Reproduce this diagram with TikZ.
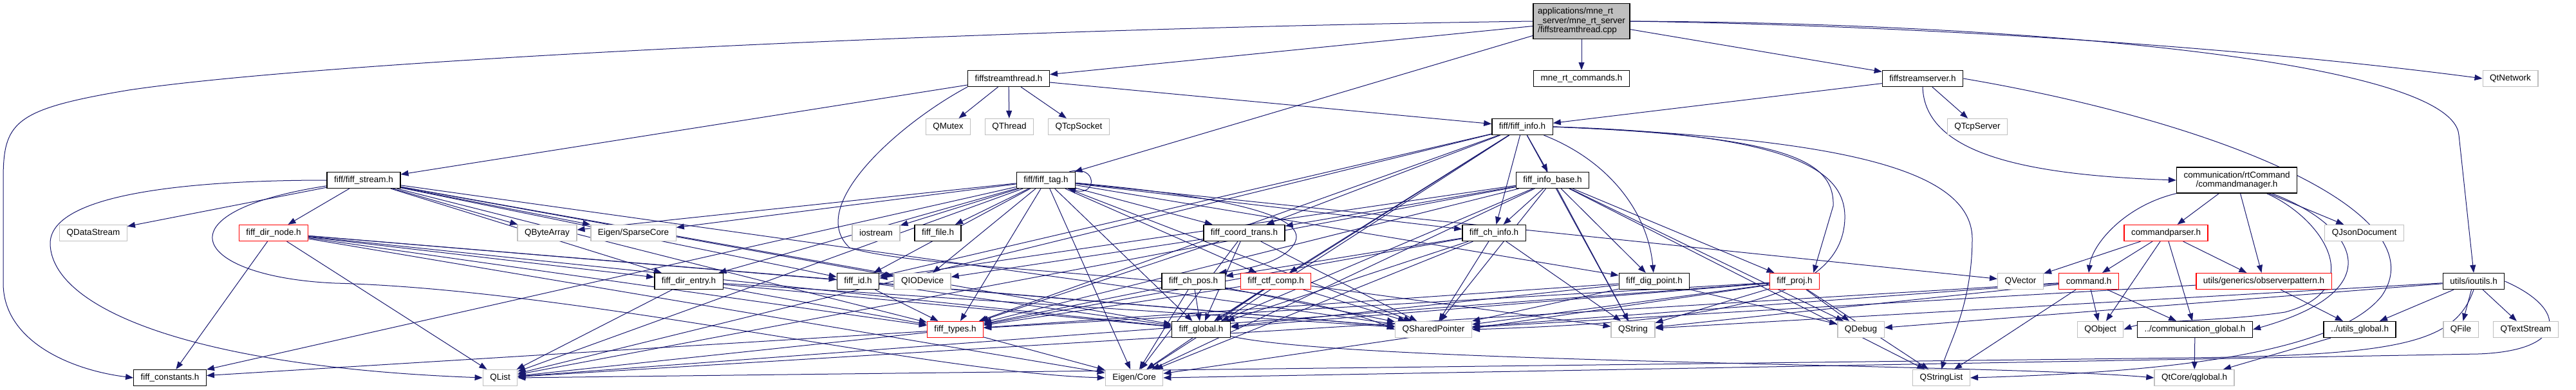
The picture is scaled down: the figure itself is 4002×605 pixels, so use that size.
\documentclass[tikz,border=0pt]{standalone}
\usepackage{fontspec}
\setmainfont{Liberation Sans}
\usepackage{tikz}
\usetikzlibrary{arrows.meta,positioning,backgrounds}
\definecolor{depblue}{RGB}{25,25,112}
\definecolor{extgray}{RGB}{191,191,191}
\tikzset{
  hdr/.style  ={rectangle,draw=black,line width=1.3pt,fill=white,inner xsep=11pt,inner ysep=0pt,minimum height=25pt,font=\fontsize{13.5}{14.5}\selectfont},
  sys/.style  ={hdr,draw=extgray},
  trunc/.style={hdr,draw=red},
  mainfile/.style={hdr,fill=extgray,line width=1.8pt,align=left,minimum height=55pt,inner xsep=7pt},
  inc/.style  ={draw=depblue,line width=1pt,-{Triangle[length=12pt,width=9pt]}},
}
\begin{document}
\begin{tikzpicture}[x=1pt,y=-1pt]
  \useasboundingbox (0,0) rectangle (4002,605);
  \node[mainfile] (root) at (2457,33) {applications/mne\_rt\\\_server/mne\_rt\_server\\/fiffstreamthread.cpp};
  \node[hdr] (thread) at (1567,122) {fiffstreamthread.h};
  \node[hdr] (cmds)   at (2457,122) {mne\_rt\_commands.h};
  \node[hdr] (server) at (2987,122) {fiffstreamserver.h};
  \node[sys] (qtnet)  at (3900,122) {QtNetwork};
  \node[sys] (qmutex)  at (1473,197) {QMutex};
  \node[sys] (qthread) at (1568,197) {QThread};
  \node[sys] (qsocket) at (1676,197) {QTcpSocket};
  \node[hdr] (info)    at (2365,197) {fiff/fiff\_info.h};
  \node[sys] (qserver) at (3072,197) {QTcpServer};
  \node[hdr] (stream)   at (565,280)  {fiff/fiff\_stream.h};
  \node[hdr] (tag)      at (1625,280) {fiff/fiff\_tag.h};
  \node[hdr] (infobase) at (2412,280) {fiff\_info\_base.h};
  \node[hdr,align=center,minimum height=40pt] (manager) at (3475,280) {communication/rtCommand\\/commandmanager.h};
  \node[sys]   (qdatastream) at (145,362)  {QDataStream};
  \node[trunc] (dirnode)     at (425,362)  {fiff\_dir\_node.h};
  \node[sys]   (qbytearray)  at (850,362)  {QByteArray};
  \node[sys]   (sparse)      at (984,362)  {Eigen/SparseCore};
  \node[sys]   (iostream)    at (1361,362) {iostream};
  \node[hdr]   (file)        at (1457,362) {fiff\_file.h};
  \node[hdr]   (coordtrans)  at (1933,362) {fiff\_coord\_trans.h};
  \node[hdr]   (chinfo)      at (2321,362) {fiff\_ch\_info.h};
  \node[trunc] (parser)      at (3365,362) {commandparser.h};
  \node[sys]   (qjson)       at (3673,362) {QJsonDocument};
  \node[hdr]   (direntry)  at (1070,437) {fiff\_dir\_entry.h};
  \node[hdr]   (fid)       at (1333,437) {fiff\_id.h};
  \node[sys]   (qiodevice) at (1433,437) {QIODevice};
  \node[hdr]   (chpos)     at (1854,437) {fiff\_ch\_pos.h};
  \node[trunc] (ctfcomp)   at (1982,437) {fiff\_ctf\_comp.h};
  \node[hdr]   (digpoint)  at (2570,437) {fiff\_dig\_point.h};
  \node[trunc] (proj)      at (2788,437) {fiff\_proj.h};
  \node[sys]   (qvector)   at (3139,437) {QVector};
  \node[trunc] (command)   at (3245,437) {command.h};
  \node[trunc] (observer)  at (3517,437) {utils/generics/observerpattern.h};
  \node[hdr]   (ioutils)   at (3843,437) {utils/ioutils.h};
  \node[trunc] (types)       at (1484,512) {fiff\_types.h};
  \node[hdr]   (global)      at (1866,512) {fiff\_global.h};
  \node[sys]   (qshared)     at (2227,512) {QSharedPointer};
  \node[sys]   (qstring)     at (2537,512) {QString};
  \node[sys]   (qdebug)      at (2891,512) {QDebug};
  \node[sys]   (qobject)     at (3263,512) {QObject};
  \node[hdr]   (commglobal)  at (3410,512) {../communication\_global.h};
  \node[hdr]   (utilsglobal) at (3666,512) {../utils\_global.h};
  \node[sys]   (qfile)       at (3823,512) {QFile};
  \node[sys]   (qtextstream) at (3924,512) {QTextStream};
  \node[hdr] (constants)  at (264,587)  {fiff\_constants.h};
  \node[sys] (qlist)      at (777,587)  {QList};
  \node[sys] (eigencore)  at (1762,587) {Eigen/Core};
  \node[sys] (qstringlist) at (3016,587) {QStringList};
  \node[sys] (qglobal)    at (3409,587) {QtCore/qglobal.h};

  \begin{scope}[on background layer]
  \fill[white] (0,0) rectangle (4002,605);
  \draw[inc] (root) -- (thread);
  \draw[inc] (root) -- (cmds);
  \draw[inc] (root) -- (server);
  \draw[inc] (root) -- (tag);
  \draw[inc] (root.east) .. controls (3000,40) and (3500,75) .. (qtnet.west);
  \draw[inc] (root.east) .. controls (3100,35) and (3810,90) .. (3820,210) -- (ioutils.north);
  \draw[inc] (root.west) .. controls (1500,45) and (500,95) .. (200,140) .. controls (20,170) and (5,190) .. (5,280) -- (5,440) .. controls (5,530) and (110,575) .. (constants.west);

  \draw[inc] (thread) -- (qmutex);
  \draw[inc] (thread) -- (qthread);
  \draw[inc] (thread) -- (qsocket);
  \draw[inc] (thread) -- (stream);
  \draw[inc] (thread) -- (info);
  \draw[inc] (thread.south west) .. controls (1400,190) and (1250,320) .. (1320,385) .. controls (1450,425) and (1950,420) .. (qshared.west);

  \draw[inc] (server) -- (info);
  \draw[inc] (server) -- (qserver);
  \draw[inc] (server.south) .. controls (2990,240) and (3150,272) .. (manager.west);
  \draw[inc] (server.east) .. controls (3450,190) and (3790,330) .. (3700,460) .. controls (3620,560) and (3300,580) .. (qstringlist.east);

  \draw[inc] (stream) -- (qdatastream);
  \draw[inc] (stream) -- (dirnode);
  \draw[inc] (stream) -- (qbytearray);
  \draw[inc] (stream) -- (sparse);
  \draw[inc] (stream) -- (fid);
  \draw[inc] (stream) -- (direntry);
  \draw[inc] (stream) -- (types);
  \draw[inc] (stream) -- (global);
  \draw[inc] (stream) -- (qshared);
  \draw[inc] (stream) -- (qiodevice);
  \draw[inc] (stream.west) .. controls (300,280) and (75,300) .. (78,380) .. controls (82,480) and (300,570) .. (qlist.west);
  \draw[inc] (stream) .. controls (240,330) and (300,430) .. (520,440) .. controls (900,450) and (1450,580) .. (eigencore.west);

  \draw[inc] (dirnode) -- (constants);
  \draw[inc] (dirnode) -- (qlist);
  \draw[inc] (dirnode) -- (types);
  \draw[inc] (dirnode) -- (global);
  \draw[inc] (dirnode) -- (fid);
  \draw[inc] (dirnode) -- (direntry);
  \draw[inc] (dirnode) -- (qshared);
  \draw[inc] (dirnode) -- (eigencore);

  \draw[inc] ([xshift=-10pt]tag.north east) .. controls (1705,255) and (1705,305) .. ([xshift=-12pt]tag.south east);
  \draw[inc] (tag) -- (sparse);
  \draw[inc] (tag) -- (direntry);
  \draw[inc] (tag) -- (fid);
  \draw[inc] (tag) -- (iostream);
  \draw[inc] (tag) -- (file);
  \draw[inc] (tag) -- (qiodevice);
  \draw[inc] (tag) -- (types);
  \draw[inc] (tag) -- (global);
  \draw[inc] (tag) -- (coordtrans);
  \draw[inc] (tag) .. controls (1900,305) and (2040,335) .. (2010,380) .. controls (1990,410) and (1935,418) .. ([xshift=-10pt]chpos.north east);
  \draw[inc] (tag) -- (chinfo);
  \draw[inc] (tag) -- (digpoint);
  \draw[inc] (tag) -- (ctfcomp);
  \draw[inc] (tag) -- (qvector);
  \draw[inc] (tag) -- (qshared);
  \draw[inc] (tag) -- (qbytearray);
  \draw[inc] (tag) -- (constants);
  \draw[inc] (tag) -- (qlist);
  \draw[inc] (tag) -- (eigencore);

  \draw[inc] (info) -- (infobase);
  \draw[inc] (info) -- (chinfo);
  \draw[inc] (info) .. controls (2500,250) and (2560,330) .. (digpoint);
  \draw[inc] (info.east) .. controls (2780,212) and (2850,250) .. (2848,320) -- ([xshift=-10pt]proj.north east);
  \draw[inc] (info) -- (coordtrans);
  \draw[inc] (info) -- (ctfcomp);
  \draw[inc] (info) -- (fid);
  \draw[inc] (info) -- (types);
  \draw[inc] (info) -- (global);
  \draw[inc] (info) -- (qlist);
  \draw[inc] (info) -- (eigencore);
  \draw[inc] (info) -- (qstring);
  \draw[inc] (info.east) .. controls (2850,215) and (3062,260) .. (3064,370) .. controls (3064,470) and (3030,530) .. (qstringlist.north);
  \draw[inc] (info.east) .. controls (2800,208) and (2868,270) .. (2866,340) .. controls (2862,470) and (2650,500) .. (qshared.east);

  \draw[inc] (infobase) -- (chinfo);
  \draw[inc] (infobase) -- (digpoint);
  \draw[inc] (infobase) -- (proj);
  \draw[inc] (infobase) -- (coordtrans);
  \draw[inc] (infobase) -- (fid);
  \draw[inc] (infobase) -- (types);
  \draw[inc] (infobase) -- (global);
  \draw[inc] (infobase) -- (qlist);
  \draw[inc] (infobase) -- (qstringlist);
  \draw[inc] (infobase) -- (qshared);
  \draw[inc] (infobase) -- (eigencore);
  \draw[inc] (infobase) -- (qdebug);
  \draw[inc] (infobase) -- (qstring);

  \draw[inc] (coordtrans) -- (types);
  \draw[inc] (coordtrans) -- (global);
  \draw[inc] (coordtrans) -- (eigencore);
  \draw[inc] (coordtrans) -- (qshared);
  \draw[inc] (coordtrans) -- (qiodevice);

  \draw[inc] (chinfo) -- (chpos);
  \draw[inc] (chinfo) -- (types);
  \draw[inc] (chinfo) -- (global);
  \draw[inc] (chinfo) -- (eigencore);
  \draw[inc] (chinfo) -- (qshared);
  \draw[inc] (chinfo) -- (qstring);

  \draw[inc] (chpos) -- (types);
  \draw[inc] (chpos) -- (global);
  \draw[inc] (chpos) -- (eigencore);
  \draw[inc] (chpos) -- (qshared);

  \draw[inc] (ctfcomp) -- (types);
  \draw[inc] (ctfcomp) -- (global);
  \draw[inc] (ctfcomp) -- (eigencore);
  \draw[inc] (ctfcomp) -- (qshared);
  \draw[inc] (ctfcomp) -- (qstring);

  \draw[inc] (digpoint) -- (types);
  \draw[inc] (digpoint) -- (global);
  \draw[inc] (digpoint) -- (qshared);
  \draw[inc] (digpoint) -- (qdebug);

  \draw[inc] (proj) -- (types);
  \draw[inc] (proj) -- (global);
  \draw[inc] (proj) -- (qshared);
  \draw[inc] (proj) -- (qstring);
  \draw[inc] (proj) -- (qstringlist);
  \draw[inc] (proj) -- (eigencore);
  \draw[inc] (proj) -- (qlist);
  \draw[inc] (proj) -- (qdebug);

  \draw[inc] (fid) -- (types);
  \draw[inc] (fid) -- (global);
  \draw[inc] (fid) -- (qshared);

  \draw[inc] (direntry) -- (types);
  \draw[inc] (direntry) -- (global);
  \draw[inc] (direntry) -- (qshared);
  \draw[inc] (direntry) -- (qlist);

  \draw[inc] (types) -- (eigencore);
  \draw[inc] (types) -- (qlist);
  \draw[inc] (types) -- (constants);
  \draw[inc] (global) .. controls (2100,565) and (3100,565) .. (qglobal.west);

  \draw[inc] (manager) -- (parser);
  \draw[inc] (manager.south west) .. controls (3300,320) and (3250,380) .. (command.north);
  \draw[inc] (manager) -- (observer);
  \draw[inc] (manager) .. controls (3610,340) and (3680,450) .. (3550,485) .. controls (3450,500) and (3340,497) .. (qobject.east);
  \draw[inc] (manager) .. controls (3660,350) and (3720,450) .. (commglobal.east);
  \draw[inc] (manager) -- (qjson);

  \draw[inc] (parser) -- (qvector);
  \draw[inc] (parser) -- (command);
  \draw[inc] (parser) -- (qobject);
  \draw[inc] (parser) -- (commglobal);
  \draw[inc] (parser) -- (observer);

  \draw[inc] (command) -- (qobject);
  \draw[inc] (command) -- (commglobal);
  \draw[inc] (command) -- (qstringlist);
  \draw[inc] (command) -- (qstring);
  \draw[inc] (command) -- (qshared);
  \draw[inc] (command) -- (qlist);

  \draw[inc] (observer) -- (utilsglobal);
  \draw[inc] (observer) -- (qshared);
  \draw[inc] (commglobal) -- (qglobal);
  \draw[inc] (utilsglobal) -- (qglobal);

  \draw[inc] (ioutils) -- (utilsglobal);
  \draw[inc] (ioutils) -- (qfile);
  \draw[inc] (ioutils) -- (qtextstream);
  \draw[inc] (ioutils) -- (qdebug);
  \draw[inc] (ioutils) -- (qstring);
  \draw[inc] (ioutils.south) .. controls (3815,530) and (3740,552) .. (3400,556) -- (qlist.east);
  \draw[inc] (ioutils.east) .. controls (3990,480) and (3990,545) .. (3850,550) -- (eigencore.east);
  \end{scope}
\end{tikzpicture}
\end{document}
